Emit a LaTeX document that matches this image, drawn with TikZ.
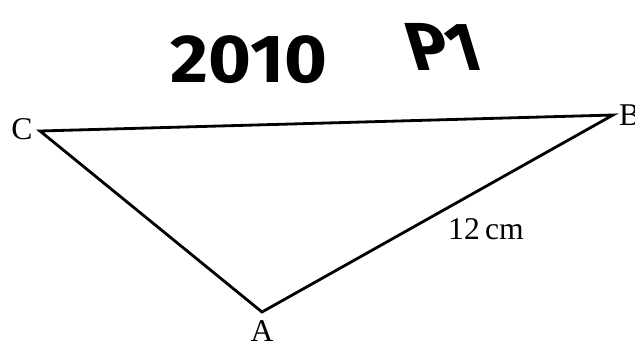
\documentclass[tikz,border=0pt]{standalone}
\usepackage{fontspec}
\setmainfont{Liberation Serif}
\newfontfamily\handfont{Fira Sans}
\usetikzlibrary{calc,positioning}
\tikzset{
  vertex/.style={inner sep=0pt,minimum size=0pt},
  vlabel/.style={font=\fontsize{27}{30}\selectfont,inner sep=0pt},
  side/.style={line width=2.4pt,line join=miter},
  hand/.style={font=\handfont\bfseries\fontsize{58}{62}\selectfont,inner sep=0pt}
}

\begin{document}
\begin{tikzpicture}[x=0.03cm,y=-0.03cm]
  \useasboundingbox (0,0) rectangle (635,350);
  \coordinate (C) at (40,131);
  \coordinate (B) at (613,115);
  \coordinate (A) at (262,312);

  \draw[side] (C) -- (B) -- (A) -- cycle;

  \node[vlabel] (lc) at (22,129) {C};
  \node[vlabel,anchor=west] (lb) at (619,115) {B};
  \node[vlabel] (la) at (262,331) {A};
  \node[vlabel] (len) at (486,229) {12\,cm};

  \node[hand,xscale=1.08] (year) at (249,60) {2010};
  \node[hand,xslant=-0.3] (paper) at (443,47) {P1};
\end{tikzpicture}
\end{document}
